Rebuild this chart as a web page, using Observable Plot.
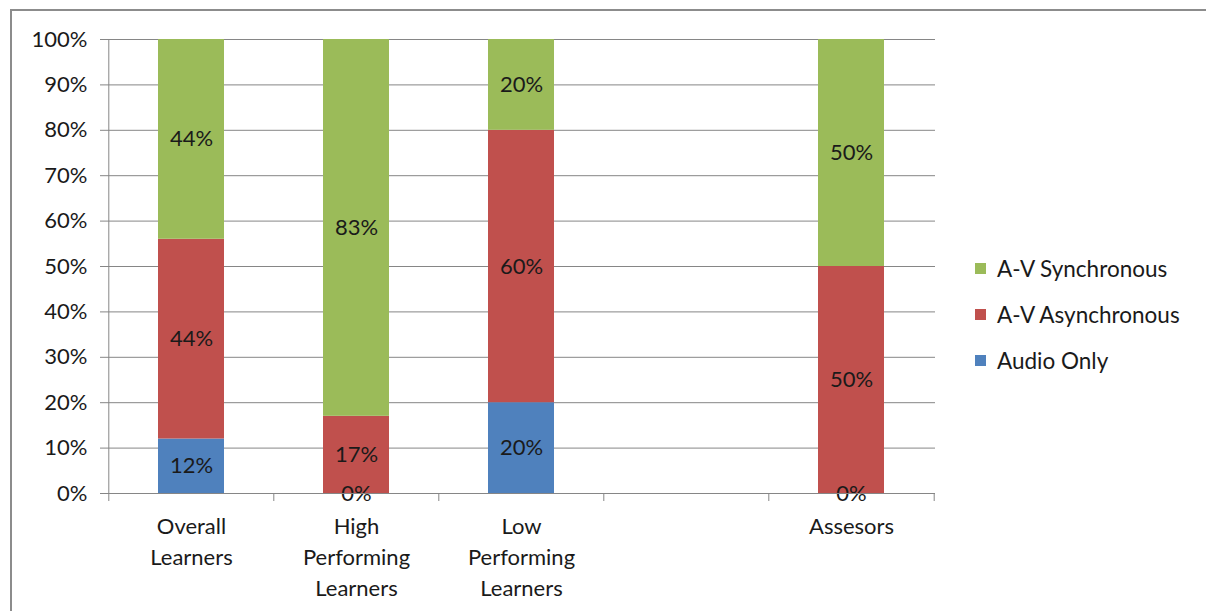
<!DOCTYPE html>
<html>
<head>
<meta charset="utf-8">
<script src="https://cdn.jsdelivr.net/npm/d3@7"></script>
<script src="https://cdn.jsdelivr.net/npm/@observablehq/plot@0.6"></script>
<style>
  body { margin: 0; background: #fff; }
  #chart { position: relative; width: 1206px; height: 611px; overflow: hidden; font-family: Lato, "Open Sans", sans-serif; color: #1a1a1a; }
  #frame { position: absolute; left: 10px; top: 9px; width: 1400px; height: 800px; border-left: 2px solid #8c8c8c; border-top: 2px solid #8c8c8c; }
  #chart svg { position: absolute; left: 0; top: 0; }
  #legend { position: absolute; left: 975px; top: 245px; font-size: 22.5px; }
  .item { display: flex; align-items: center; height: 46px; }
  .sw { width: 11px; height: 11px; margin-right: 11px; }
</style>
</head>
<body>
<div id="chart"><div id="frame"></div><div id="legend"></div></div>
<script>
// Categories along the x axis (the fourth slot is intentionally empty)
const categories = ["Overall Learners", "High Performing Learners", "Low Performing Learners", "", "Assesors"];
const tickLabels = ["Overall\nLearners", "High\nPerforming\nLearners", "Low\nPerforming\nLearners", "", "Assesors"];

// Series, bottom to top in each stack
const series = ["Audio Only", "A-V Asynchronous", "A-V Synchronous"];
const seriesColors = ["#4F81BD", "#C0504D", "#9BBB59"];

// Share of responses (%) per category
const audioOnly      = [12, 0, 20, null, 0];
const avAsynchronous = [44, 17, 60, null, 50];
const avSynchronous  = [44, 83, 20, null, 50];

const yTicks = d3.range(0, 101, 10);

const seriesValues = [audioOnly, avAsynchronous, avSynchronous];
const rows = [];
categories.forEach((c, i) => {
  series.forEach((s, j) => {
    const v = seriesValues[j][i];
    if (v != null) rows.push({category: c, series: s, value: v});
  });
});

const W = 1206, H = 611;
const margins = {left: 108, right: 271, top: 39, bottom: 118};
const xOpts = {type: "band", domain: categories, paddingInner: 0.6, paddingOuter: 0.3};
const xs = Plot.scale({x: {...xOpts, range: [margins.left, W - margins.right]}});
const half = xs.step / 2;
const gray = "#868686";

const plot = Plot.plot({
  width: W, height: H,
  marginLeft: margins.left, marginRight: margins.right,
  marginTop: margins.top, marginBottom: margins.bottom,
  style: {fontFamily: "Lato, 'Open Sans', sans-serif", fontSize: "22px", color: "#1a1a1a", background: "transparent", overflow: "visible"},
  x: {...xOpts, label: null, axis: null},
  y: {domain: [0, 100], label: null, axis: null},
  color: {domain: series, range: seriesColors},
  marks: [
    Plot.gridY(yTicks, {stroke: gray, strokeOpacity: 1}),
    // category boundary ticks below the baseline
    Plot.ruleX(categories, {x: d => d, dx: -half, y1: 0, y2: 0, insetBottom: -8, stroke: gray}),
    Plot.ruleX(categories.slice(-1), {x: d => d, dx: half, y1: 0, y2: 0, insetBottom: -8, stroke: gray}),
    Plot.barY(rows, {x: "category", y: "value", fill: "series"}),
    Plot.text(rows, Plot.stackY({x: "category", y: "value", z: "series", text: d => d.value + "%", fill: "#1a1a1a"})),
    // axis lines
    Plot.ruleY([0], {stroke: gray}),
    Plot.ruleX(categories.slice(0, 1), {x: d => d, dx: -half, y1: 0, y2: 100, stroke: gray}),
    Plot.axisY(yTicks, {tickFormat: d => d + "%", tickSize: 8, tickPadding: 13, stroke: gray, color: "#1a1a1a", label: null}),
    Plot.axisX({tickSize: 0, tickPadding: 18, tickFormat: (d, i) => tickLabels[i], lineHeight: 1.41, color: "#1a1a1a", label: null})
  ]
});
document.getElementById("chart").appendChild(plot);

// Legend, top entry is the top of the stack
const legend = d3.select("#legend");
series.slice().reverse().forEach(s => {
  const item = legend.append("div").attr("class", "item");
  item.append("div").attr("class", "sw").style("background", seriesColors[series.indexOf(s)]);
  item.append("span").text(s);
});
</script>
</body>
</html>
